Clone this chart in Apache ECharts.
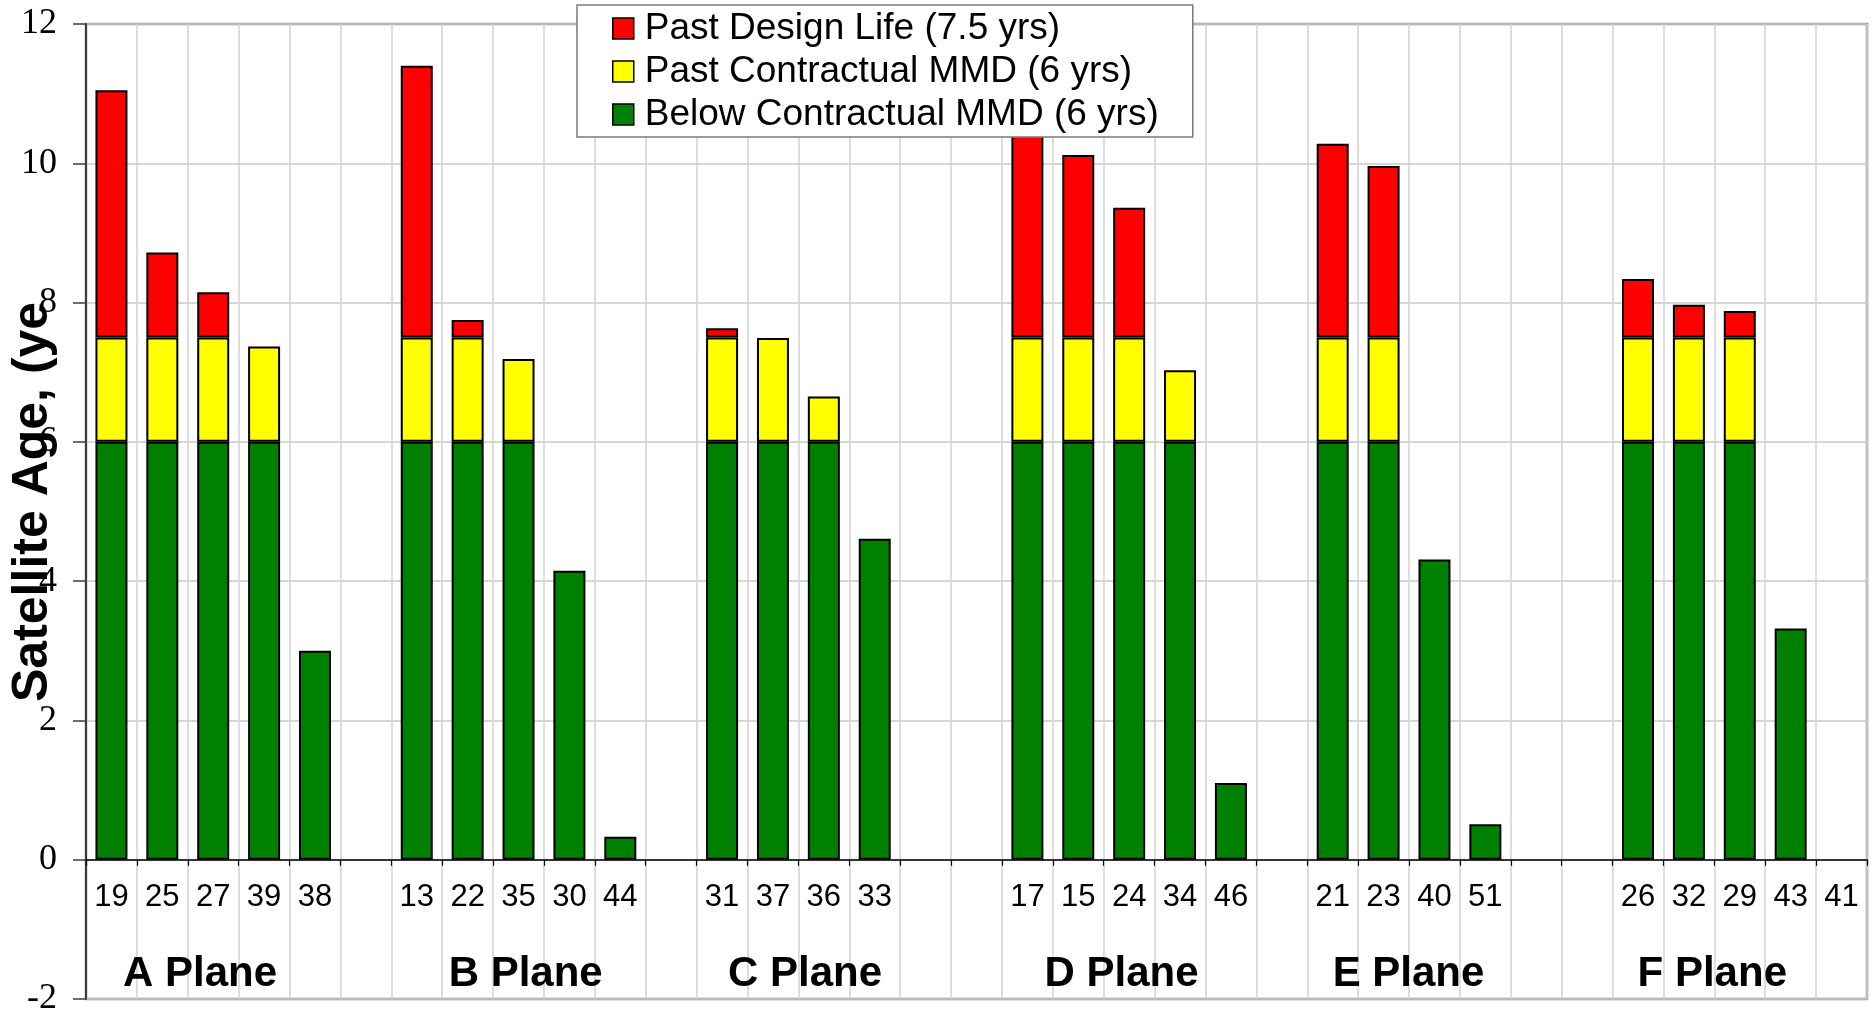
<!DOCTYPE html>
<html>
<head>
<meta charset="utf-8">
<script src="https://cdn.jsdelivr.net/npm/echarts@6/dist/echarts.min.js"></script>
<style>
  html, body { margin: 0; padding: 0; background: #ffffff; }
  #chart { width: 1876px; height: 1017px; }
</style>
</head>
<body>
<div id="chart"></div>
<script>
// Satellite slots along the axis, grouped by orbital plane (blank = empty slot)
const satellites = [
  '19', '25', '27', '39', '38', '',
  '13', '22', '35', '30', '44', '',
  '31', '37', '36', '33', '', '',
  '17', '15', '24', '34', '46', '',
  '21', '23', '40', '51', '', '',
  '26', '32', '29', '43', '41'
];

// Years below the contractual mean mission duration (0 - 6 yrs)
const belowMMD = [
  6, 6, 6, 6, 3.00, null,
  6, 6, 6, 4.15, 0.33, null,
  6, 6, 6, 4.61, null, null,
  6, 6, 6, 6, 1.10, null,
  6, 6, 4.31, 0.51, null, null,
  6, 6, 6, 3.32, null
];

// Years past the contractual MMD (6 - 7.5 yrs)
const pastMMD = [
  1.5, 1.5, 1.5, 1.37, null, null,
  1.5, 1.5, 1.19, null, null, null,
  1.5, 1.49, 0.65, null, null, null,
  1.5, 1.5, 1.5, 1.03, null, null,
  1.5, 1.5, null, null, null, null,
  1.5, 1.5, 1.5, null, null
];

// Years past the 7.5 yr design life
const pastDesignLife = [
  3.55, 1.22, 0.65, null, null, null,
  3.90, 0.25, null, null, null, null,
  0.13, null, null, null, null, null,
  3.40, 2.62, 1.86, null, null, null,
  2.78, 2.46, null, null, null, null,
  0.84, 0.47, 0.38, null, null
];

const seriesNames = [
  'Past Design Life (7.5 yrs)',
  'Past Contractual MMD (6 yrs)',
  'Below Contractual MMD (6 yrs)'
];

const planeNames = ['A Plane', 'B Plane', 'C Plane', 'D Plane', 'E Plane', 'F Plane'];

// Where each plane caption sits, in category units along the x axis
const planeLabelPos = [1.74, 8.14, 13.63, 19.85, 25.49, 31.46];

const yMin = -2, yMax = 12, yStep = 2;

const SANS = '"Liberation Sans", Arial, sans-serif';
const SERIF = '"Liberation Serif", "Times New Roman", serif';

const chart = echarts.init(document.getElementById('chart'), null, { renderer: 'canvas' });

const barStyle = (color) => ({
  color: color,
  borderColor: '#000000',
  borderWidth: 2
});

chart.setOption({
  animation: false,
  backgroundColor: '#ffffff',
  grid: {
    left: 86, right: 9, top: 24, bottom: 18,
    outerBoundsMode: 'none',
    containLabel: false,
    show: true,
    borderColor: '#8c8c8c',
    borderWidth: 2.5,
    backgroundColor: 'transparent'
  },
  legend: {
    orient: 'vertical',
    left: 577,
    top: 5,
    data: seriesNames,
    icon: 'rect',
    itemWidth: 21,
    itemHeight: 21,
    itemGap: 6,
    padding: [5, 34, 4, 35],
    backgroundColor: '#ffffff',
    borderColor: '#7a7a7a',
    borderWidth: 1.5,
    selectedMode: false,
    itemStyle: { borderColor: '#000000', borderWidth: 1.5 },
    textStyle: {
      fontFamily: SANS,
      fontSize: 37,
      lineHeight: 35,
      padding: [0, 0, 0, 6],
      color: '#000000'
    }
  },
  xAxis: {
    type: 'category',
    data: satellites,
    boundaryGap: true,
    position: 'bottom',
    axisLine: { onZero: false, lineStyle: { color: '#000000', width: 1.5 } },
    axisTick: { show: true, interval: 0, length: 6, lineStyle: { color: '#000000', width: 1.2 } },
    axisLabel: {
      interval: 0,
      margin: 22,
      fontFamily: SANS,
      fontSize: 31,
      color: '#000000'
    },
    splitLine: { show: true, interval: 0, lineStyle: { color: '#d2d2d2', width: 1.5 } }
  },
  yAxis: {
    type: 'value',
    min: yMin,
    max: yMax,
    interval: yStep,
    axisLine: { show: true, lineStyle: { color: '#3c3c3c', width: 2 } },
    axisTick: { show: true, length: 13, lineStyle: { color: '#3c3c3c', width: 1.5 } },
    axisLabel: {
      margin: 29,
      fontFamily: SERIF,
      fontSize: 36,
      color: '#000000'
    },
    splitLine: { show: true, lineStyle: { color: '#c8c8c8', width: 1.5 } }
  },
  series: [
    {
      name: seriesNames[2], type: 'bar', stack: 'age', barWidth: 32,
      itemStyle: barStyle('#008000'), data: belowMMD
    },
    {
      name: seriesNames[1], type: 'bar', stack: 'age', barWidth: 32,
      itemStyle: barStyle('#ffff00'), data: pastMMD
    },
    {
      name: seriesNames[0], type: 'bar', stack: 'age', barWidth: 32,
      itemStyle: barStyle('#ff0000'), data: pastDesignLife
    }
  ]
});

// Lift the category axis (line, ticks, numbers) up to the zero line
const yZero = chart.convertToPixel({ yAxisIndex: 0 }, 0);
const yBottom = chart.convertToPixel({ yAxisIndex: 0 }, yMin);
chart.setOption({ xAxis: { offset: -(yBottom - yZero) } });

// Plane captions under the satellite numbers and the rotated y-axis title
const x0 = chart.convertToPixel({ xAxisIndex: 0 }, 0);
const x1 = chart.convertToPixel({ xAxisIndex: 0 }, 1);
const step = x1 - x0;

const captions = planeNames.map((name, i) => ({
  type: 'text',
  x: x0 + planeLabelPos[i] * step,
  y: 974,
  style: {
    text: name,
    font: 'bold 42px ' + SANS,
    fill: '#000000',
    align: 'center',
    verticalAlign: 'middle'
  },
  z: 10
}));

captions.push({
  type: 'text',
  x: 33,
  y: 702,
  rotation: Math.PI / 2,
  style: {
    text: 'Satellite Age, (years)',
    font: 'bold 50px ' + SANS,
    fill: '#000000',
    align: 'left',
    verticalAlign: 'middle',
    width: 412,
    overflow: 'truncate',
    ellipsis: ''
  },
  z: 10
});

chart.setOption({ graphic: captions });
</script>
</body>
</html>
